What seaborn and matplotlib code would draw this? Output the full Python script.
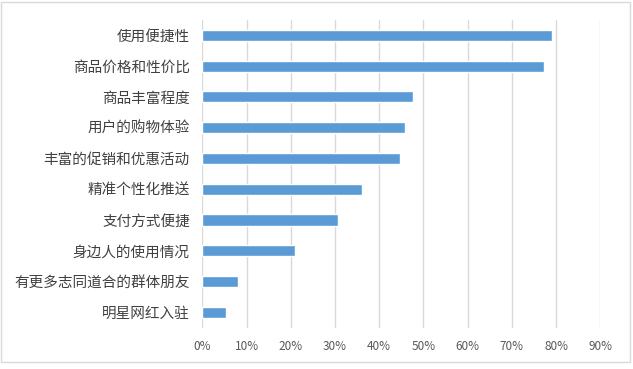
import matplotlib
matplotlib.use("Agg")
import matplotlib.pyplot as plt
import seaborn as sns
import pandas as pd
from matplotlib.patches import Rectangle
from matplotlib.ticker import PercentFormatter

categories = ["使用便捷性", "商品价格和性价比", "商品丰富程度", "用户的购物体验",
              "丰富的促销和优惠活动", "精准个性化推送", "支付方式便捷",
              "身边人的使用情况", "有更多志同道合的群体朋友", "明星网红入驻"]
values = [79.1, 77.3, 47.7, 45.9, 44.7, 36.1, 30.7, 21.0, 8.1, 5.4]
xticks = [0, 10, 20, 30, 40, 50, 60, 70, 80, 90]

sns.set_theme(style="white")
plt.rcParams['font.family'] = ['Noto Sans CJK SC', 'DejaVu Sans']

df = pd.DataFrame({"category": categories, "value": values})

fig = plt.figure(figsize=(6.33, 3.69), dpi=100)
ax = fig.add_axes([0.3196, 0.1119, 0.6288, 0.834])

sns.barplot(data=df, x="value", y="category", orient="h", color="#5B9BD5",
            width=0.36, saturation=1, ax=ax, zorder=3)

ax.set_xlim(0, 90)
ax.set_xticks(xticks)
ax.xaxis.set_major_formatter(PercentFormatter(decimals=0))
ax.grid(axis="x", color="#D9D9D9", linewidth=1, zorder=0)
ax.set_axisbelow(True)
for s in ax.spines.values():
    s.set_visible(False)
ax.set_xlabel("")
ax.set_ylabel("")
ax.tick_params(axis="y", length=0, pad=9, labelsize=10.5, labelcolor="#404040")
ax.tick_params(axis="x", length=0, pad=9, labelsize=8.5, labelcolor="#595959")

fig.patches.append(Rectangle((0.5 / 633, 1 - 362 / 369), 629.5 / 633, 360 / 369,
                             transform=fig.transFigure, fill=False,
                             edgecolor="#D9D9D9", linewidth=1))

fig.savefig("out.png", dpi=100)
